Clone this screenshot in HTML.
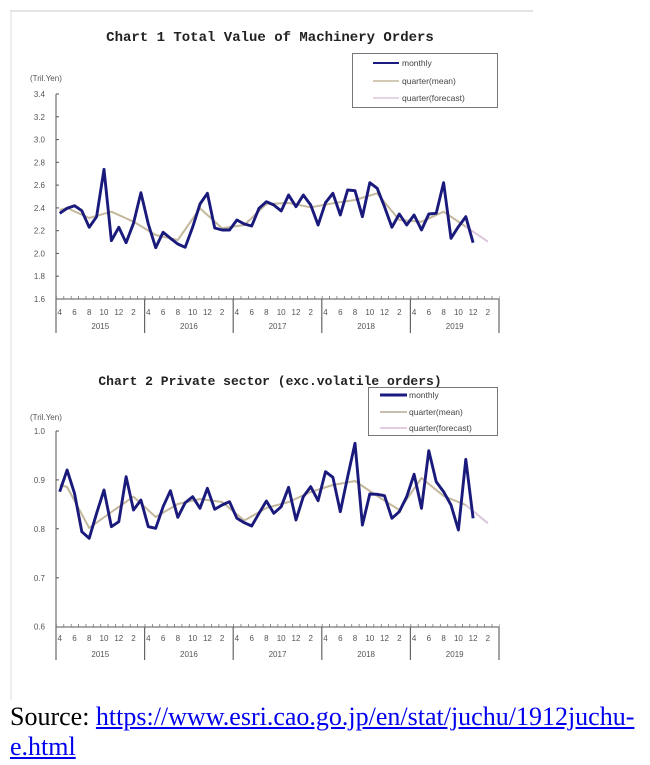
<!DOCTYPE html>
<html>
<head>
<meta charset="utf-8">
<style>
html,body{margin:0;padding:0;background:#fff;}
body{width:650px;height:765px;position:relative;overflow:hidden;}
svg{position:absolute;left:0;top:0;}
.src{position:absolute;left:10px;top:702px;font-family:"Liberation Serif",serif;font-size:26px;line-height:30px;color:#000;white-space:nowrap;}
.src a{color:#0000EE;text-decoration:underline;}
</style>
</head>
<body>
<svg width="650" height="765" viewBox="0 0 650 765" xmlns="http://www.w3.org/2000/svg">
  <!-- frame -->
  <line x1="10" y1="11" x2="533" y2="11" stroke="#dcdcdc" stroke-width="1.5"/>
  <line x1="11" y1="11" x2="11" y2="700" stroke="#e8e8e8" stroke-width="1.5"/>

  <!-- ===== CHART 1 ===== -->
  <text x="270" y="41" text-anchor="middle" font-family="Liberation Mono, monospace" font-weight="bold" font-size="14" fill="#222">Chart 1 Total Value of Machinery Orders</text>

  <!-- legend 1 -->
  <rect x="352.5" y="53.5" width="145" height="54" fill="#fff" stroke="#777" stroke-width="1"/>
  <line x1="373" y1="63" x2="399" y2="63" stroke="#1a1a80" stroke-width="2"/>
  <line x1="373" y1="81" x2="399" y2="81" stroke="#c4b89c" stroke-width="1.5"/>
  <line x1="373" y1="98" x2="399" y2="98" stroke="#dcc6dc" stroke-width="1.5"/>
  <g font-family="Liberation Sans, sans-serif" font-size="8.5" fill="#444">
    <text x="402" y="66">monthly</text>
    <text x="402" y="84">quarter(mean)</text>
    <text x="402" y="101">quarter(forecast)</text>
  </g>

  <!-- axes 1 -->
  <text x="30" y="81" font-family="Liberation Sans, sans-serif" font-size="8" fill="#555">(Tril.Yen)</text>
  <g font-family="Liberation Sans, sans-serif" font-size="8" fill="#555" text-anchor="end">
    <text x="45" y="97">3.4</text>
    <text x="45" y="119.8">3.2</text>
    <text x="45" y="142.6">3.0</text>
    <text x="45" y="165.3">2.8</text>
    <text x="45" y="188.1">2.6</text>
    <text x="45" y="210.9">2.4</text>
    <text x="45" y="233.7">2.2</text>
    <text x="45" y="256.4">2.0</text>
    <text x="45" y="279.2">1.8</text>
    <text x="45" y="302">1.6</text>
  </g>
  <line x1="56" y1="94" x2="56" y2="299" stroke="#555" stroke-width="1"/>
  <g stroke="#555" stroke-width="1">
    <line x1="56" y1="94" x2="59" y2="94"/>
    <line x1="56" y1="116.8" x2="59" y2="116.8"/>
    <line x1="56" y1="139.6" x2="59" y2="139.6"/>
    <line x1="56" y1="162.3" x2="59" y2="162.3"/>
    <line x1="56" y1="185.1" x2="59" y2="185.1"/>
    <line x1="56" y1="207.9" x2="59" y2="207.9"/>
    <line x1="56" y1="230.7" x2="59" y2="230.7"/>
    <line x1="56" y1="253.4" x2="59" y2="253.4"/>
    <line x1="56" y1="276.2" x2="59" y2="276.2"/>
  </g>
  <line x1="56" y1="299" x2="499" y2="299" stroke="#555" stroke-width="1"/>
  <line x1="56" y1="297.5" x2="499.5" y2="297.5" stroke="#777" stroke-width="3" stroke-dasharray="0.8 6.583"/>
  <g stroke="#666" stroke-width="1.2">
    <line x1="56" y1="299" x2="56" y2="333"/>
    <line x1="144.6" y1="299" x2="144.6" y2="333"/>
    <line x1="233.2" y1="299" x2="233.2" y2="333"/>
    <line x1="321.8" y1="299" x2="321.8" y2="333"/>
    <line x1="410.4" y1="299" x2="410.4" y2="333"/>
    <line x1="499" y1="299" x2="499" y2="333"/>
  </g>
  <g font-family="Liberation Sans, sans-serif" font-size="8" fill="#555" text-anchor="middle">
    <text x="59.7" y="315">4</text><text x="74.5" y="315">6</text><text x="89.2" y="315">8</text><text x="104" y="315">10</text><text x="118.8" y="315">12</text><text x="133.5" y="315">2</text>
    <text x="148.3" y="315">4</text><text x="163.1" y="315">6</text><text x="177.8" y="315">8</text><text x="192.6" y="315">10</text><text x="207.4" y="315">12</text><text x="222.1" y="315">2</text>
    <text x="236.9" y="315">4</text><text x="251.7" y="315">6</text><text x="266.4" y="315">8</text><text x="281.2" y="315">10</text><text x="296" y="315">12</text><text x="310.7" y="315">2</text>
    <text x="325.5" y="315">4</text><text x="340.3" y="315">6</text><text x="355" y="315">8</text><text x="369.8" y="315">10</text><text x="384.5" y="315">12</text><text x="399.3" y="315">2</text>
    <text x="414.1" y="315">4</text><text x="428.8" y="315">6</text><text x="443.6" y="315">8</text><text x="458.4" y="315">10</text><text x="473.1" y="315">12</text><text x="487.9" y="315">2</text>
    <text x="100.3" y="329">2015</text><text x="188.9" y="329">2016</text><text x="277.5" y="329">2017</text><text x="366.1" y="329">2018</text><text x="454.7" y="329">2019</text>
  </g>

  <!-- series 1 -->
  <polyline fill="none" stroke="#c4b89c" stroke-width="2" stroke-linejoin="round" points="59.7,210 67.1,208 89.2,218 111.4,211.7 133.5,221.7 155.7,235 177.8,240 200.0,208.3 222.1,228.3 244.3,225 266.4,204 288.6,203 310.7,207.3 332.9,203.3 355.0,200 377.2,193.3 399.3,220 421.5,221.7 443.6,211.7 465.8,226.7"/>
  <polyline fill="none" stroke="#dcc6dc" stroke-width="2" points="465.8,226.7 487.9,241.7"/>
  <polyline fill="none" stroke="#1a1a7c" stroke-width="2.9" stroke-linejoin="round" points="59.7,213.3 67.1,208.3 74.5,205.7 81.8,210.7 89.2,227.3 96.6,216.7 104.0,169.3 111.4,240.7 118.8,227.3 126.1,242.7 133.5,223.3 140.9,192.7 148.3,224 155.7,247.7 163.1,232.3 170.4,238.3 177.8,244 185.2,247.3 192.6,227.3 200.0,204 207.4,193.3 214.7,228 222.1,230 229.5,230 236.9,220 244.3,224 251.7,226 259.0,208.3 266.4,201.7 273.8,205 281.2,211 288.6,195 296.0,206.7 303.3,195 310.7,205 318.1,225 325.5,202.7 332.9,193.3 340.3,215 347.6,190 355.0,190.7 362.4,216.7 369.8,182.7 377.2,188.3 384.5,206.7 391.9,227.3 399.3,214 406.7,225 414.1,215 421.5,230 428.8,214 436.2,213.3 443.6,182.7 451.0,238.3 458.4,226.7 465.8,216.7 473.1,242.7"/>

  <!-- ===== CHART 2 ===== -->
  <text x="270" y="385" text-anchor="middle" font-family="Liberation Mono, monospace" font-weight="bold" font-size="13" fill="#222">Chart 2 Private sector (exc.volatile orders)</text>

  <!-- legend 2 -->
  <rect x="368.5" y="387.5" width="129" height="48" fill="#fff" stroke="#777" stroke-width="1"/>
  <line x1="380" y1="395" x2="407" y2="395" stroke="#1a1a80" stroke-width="3"/>
  <line x1="380" y1="412" x2="407" y2="412" stroke="#a89a7c" stroke-width="1.2"/>
  <line x1="380" y1="428" x2="407" y2="428" stroke="#d8bcd8" stroke-width="1.5"/>
  <g font-family="Liberation Sans, sans-serif" font-size="8.5" fill="#444">
    <text x="409" y="398">monthly</text>
    <text x="409" y="415">quarter(mean)</text>
    <text x="409" y="431">quarter(forecast)</text>
  </g>

  <!-- axes 2 -->
  <text x="30" y="420" font-family="Liberation Sans, sans-serif" font-size="8" fill="#555">(Tril.Yen)</text>
  <g font-family="Liberation Sans, sans-serif" font-size="8" fill="#555" text-anchor="end">
    <text x="45" y="434">1.0</text>
    <text x="45" y="482.9">0.9</text>
    <text x="45" y="531.8">0.8</text>
    <text x="45" y="580.8">0.7</text>
    <text x="45" y="629.7">0.6</text>
  </g>
  <line x1="56" y1="431" x2="56" y2="627" stroke="#555" stroke-width="1"/>
  <g stroke="#555" stroke-width="1">
    <line x1="56" y1="431" x2="59" y2="431"/>
    <line x1="56" y1="479.9" x2="59" y2="479.9"/>
    <line x1="56" y1="528.8" x2="59" y2="528.8"/>
    <line x1="56" y1="577.8" x2="59" y2="577.8"/>
  </g>
  <line x1="56" y1="627" x2="499" y2="627" stroke="#555" stroke-width="1"/>
  <line x1="56" y1="625.5" x2="499.5" y2="625.5" stroke="#777" stroke-width="3" stroke-dasharray="0.8 6.583"/>
  <g stroke="#666" stroke-width="1.2">
    <line x1="56" y1="627" x2="56" y2="660"/>
    <line x1="144.6" y1="627" x2="144.6" y2="660"/>
    <line x1="233.2" y1="627" x2="233.2" y2="660"/>
    <line x1="321.8" y1="627" x2="321.8" y2="660"/>
    <line x1="410.4" y1="627" x2="410.4" y2="660"/>
    <line x1="499" y1="627" x2="499" y2="660"/>
  </g>
  <g font-family="Liberation Sans, sans-serif" font-size="8" fill="#555" text-anchor="middle">
    <text x="59.7" y="641">4</text><text x="74.5" y="641">6</text><text x="89.2" y="641">8</text><text x="104" y="641">10</text><text x="118.8" y="641">12</text><text x="133.5" y="641">2</text>
    <text x="148.3" y="641">4</text><text x="163.1" y="641">6</text><text x="177.8" y="641">8</text><text x="192.6" y="641">10</text><text x="207.4" y="641">12</text><text x="222.1" y="641">2</text>
    <text x="236.9" y="641">4</text><text x="251.7" y="641">6</text><text x="266.4" y="641">8</text><text x="281.2" y="641">10</text><text x="296" y="641">12</text><text x="310.7" y="641">2</text>
    <text x="325.5" y="641">4</text><text x="340.3" y="641">6</text><text x="355" y="641">8</text><text x="369.8" y="641">10</text><text x="384.5" y="641">12</text><text x="399.3" y="641">2</text>
    <text x="414.1" y="641">4</text><text x="428.8" y="641">6</text><text x="443.6" y="641">8</text><text x="458.4" y="641">10</text><text x="473.1" y="641">12</text><text x="487.9" y="641">2</text>
    <text x="100.3" y="657">2015</text><text x="188.9" y="657">2016</text><text x="277.5" y="657">2017</text><text x="366.1" y="657">2018</text><text x="454.7" y="657">2019</text>
  </g>

  <!-- series 2 -->
  <polyline fill="none" stroke="#c4b89c" stroke-width="2" stroke-linejoin="round" points="59.7,485 67.1,487 89.2,528 111.4,512 133.5,496.7 155.7,517 177.8,504 200.0,499 222.1,502 244.3,520.5 266.4,508 288.6,502 310.7,492 332.9,485 355.0,481 377.2,496 399.3,510 421.5,478 443.6,496 465.8,505"/>
  <polyline fill="none" stroke="#dcc6dc" stroke-width="2" points="465.8,505 487.9,523.3"/>
  <polyline fill="none" stroke="#1a1a7c" stroke-width="2.9" stroke-linejoin="round" points="59.7,491.7 67.1,470 74.5,493.3 81.8,531.7 89.2,538.3 96.6,513.3 104.0,490 111.4,526.7 118.8,521.7 126.1,476.7 133.5,510 140.9,500 148.3,526.7 155.7,528.3 163.1,506.7 170.4,490.7 177.8,517.3 185.2,502.7 192.6,496.7 200.0,508.3 207.4,488.3 214.7,509.3 222.1,505 229.5,501.7 236.9,518.3 244.3,522.7 251.7,526 259.0,513.3 266.4,501 273.8,513.3 281.2,506.7 288.6,487.3 296.0,520 303.3,496.7 310.7,486.7 318.1,500.7 325.5,471.7 332.9,477.3 340.3,511.7 347.6,477 355.0,443.3 362.4,525 369.8,494 377.2,494.3 384.5,495.7 391.9,518.3 399.3,511.7 406.7,496.7 414.1,474.3 421.5,508.3 428.8,450.7 436.2,481.7 443.6,491.7 451.0,505 458.4,530 465.8,459.3 473.1,518.3"/>
</svg>

<div class="src">Source: <a>https://www.esri.cao.go.jp/en/stat/juchu/1912juchu-<br>e.html</a></div>
</body>
</html>
